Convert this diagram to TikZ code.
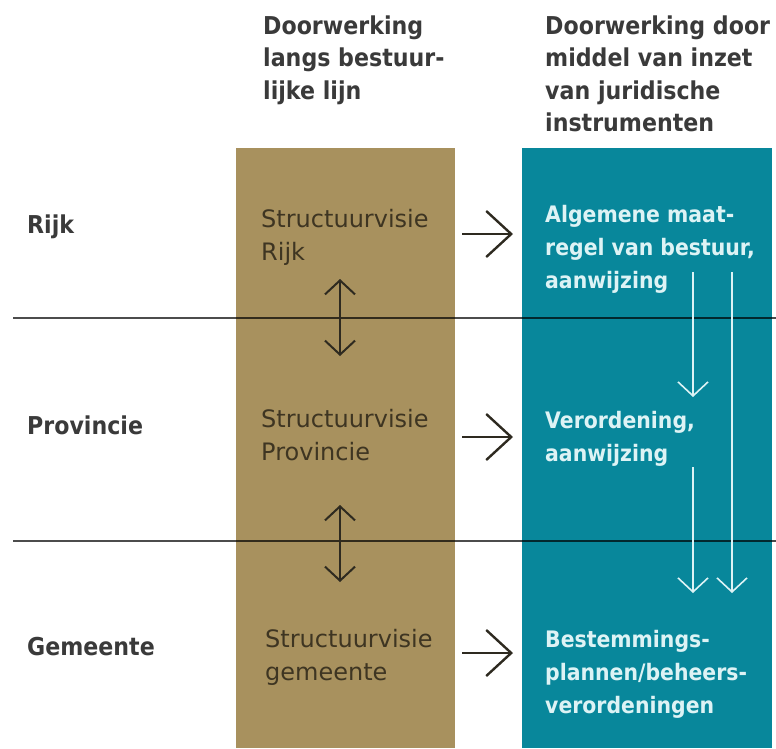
\documentclass[tikz,border=0pt]{standalone}
\usepackage{fontspec}
\setmainfont{DejaVu Sans}
\newfontfamily\condfont[FakeStretch=0.9]{DejaVu Sans}
\usetikzlibrary{arrows.meta}
\definecolor{goldfill}{HTML}{A8915E}
\definecolor{tealfill}{HTML}{08879B}
\definecolor{goldtext}{HTML}{3E3522}
\definecolor{headtext}{HTML}{3A3A3A}
\definecolor{tealtext}{HTML}{DDF3F5}
\definecolor{arrowdark}{HTML}{2E2A20}
\tikzset{
  hdr/.style={anchor=base west, inner sep=0pt, align=left, text=headtext, font=\condfont\bfseries\fontsize{24.6}{32.5}\selectfont},
  level/.style={anchor=base west, inner sep=0pt, text=headtext, font=\condfont\bfseries\fontsize{24.6}{33}\selectfont},
  goldtxt/.style={anchor=base west, inner sep=0pt, align=left, text=goldtext, font=\fontsize{24}{33}\selectfont},
  tealtxt/.style={anchor=base west, inner sep=0pt, align=left, text=tealtext, font=\condfont\bfseries\fontsize{22.7}{33}\selectfont},
  hrule/.style={draw=black, draw opacity=0.7, line width=2pt},
  rightarrow/.style={draw=arrowdark, line width=2.4pt, -{Straight Barb[length=25pt, width=46pt]}},
  updown/.style={draw=arrowdark, line width=2pt, {Straight Barb[length=14pt, width=30pt]}-{Straight Barb[length=14pt, width=30pt]}},
  downwhite/.style={draw=tealtext, line width=1.6pt, -{Straight Barb[length=14pt, width=30pt]}}
}
\begin{document}
\begin{tikzpicture}[x=1pt, y=-1pt]
\useasboundingbox (0,0) rectangle (776,748);
% columns
\fill[goldfill] (236,148) rectangle (455,748);
\fill[tealfill] (522,148) rectangle (772,748);
% headers (anchored at the baseline of the last line)
\node[hdr] (h1) at (263,99) {Doorwerking\\langs bestuur-\\lijke lijn};
\node[hdr] (h2) at (545,131.5) {Doorwerking door\\middel van inzet\\van juridische\\instrumenten};
% level labels
\node[level] (l1) at (27,233) {Rijk};
\node[level] (l2) at (27,434) {Provincie};
\node[level] (l3) at (27,655) {Gemeente};
% gold column texts
\node[goldtxt] (s1) at (261,260) {Structuurvisie\\Rijk};
\node[goldtxt] (s2) at (261,460) {Structuurvisie\\Provincie};
\node[goldtxt] (s3) at (265,680) {Structuurvisie\\gemeente};
% teal column texts
\node[tealtxt] (t1) at (545,288) {Algemene maat-\\regel van bestuur,\\aanwijzing};
\node[tealtxt] (t2) at (545,461) {Verordening,\\aanwijzing};
\node[tealtxt] (t3) at (545,713) {Bestemmings-\\plannen/beheers-\\verordeningen};
% horizontal rules
\coordinate (r1a) at (13,318); \coordinate (r1b) at (776,318);
\coordinate (r2a) at (13,541); \coordinate (r2b) at (776,541);
\draw[hrule] (r1a) -- (r1b);
\draw[hrule] (r2a) -- (r2b);
% right arrows
\coordinate (a1s) at (462,234); \coordinate (a1e) at (513,234);
\coordinate (a2s) at (462,437); \coordinate (a2e) at (513,437);
\coordinate (a3s) at (462,653); \coordinate (a3e) at (513,653);
\draw[rightarrow] (a1s) -- (a1e);
\draw[rightarrow] (a2s) -- (a2e);
\draw[rightarrow] (a3s) -- (a3e);
% up-down arrows
\coordinate (u1a) at (340,279); \coordinate (u1b) at (340,356);
\coordinate (u2a) at (340,505); \coordinate (u2b) at (340,582);
\draw[updown] (u1a) -- (u1b);
\draw[updown] (u2a) -- (u2b);
% white down arrows
\coordinate (w1a) at (693,272); \coordinate (w1b) at (693,397);
\coordinate (w2a) at (693,467); \coordinate (w2b) at (693,593);
\coordinate (w3a) at (732,272); \coordinate (w3b) at (732,593);
\draw[downwhite] (w1a) -- (w1b);
\draw[downwhite] (w2a) -- (w2b);
\draw[downwhite] (w3a) -- (w3b);
\end{tikzpicture}
\end{document}
